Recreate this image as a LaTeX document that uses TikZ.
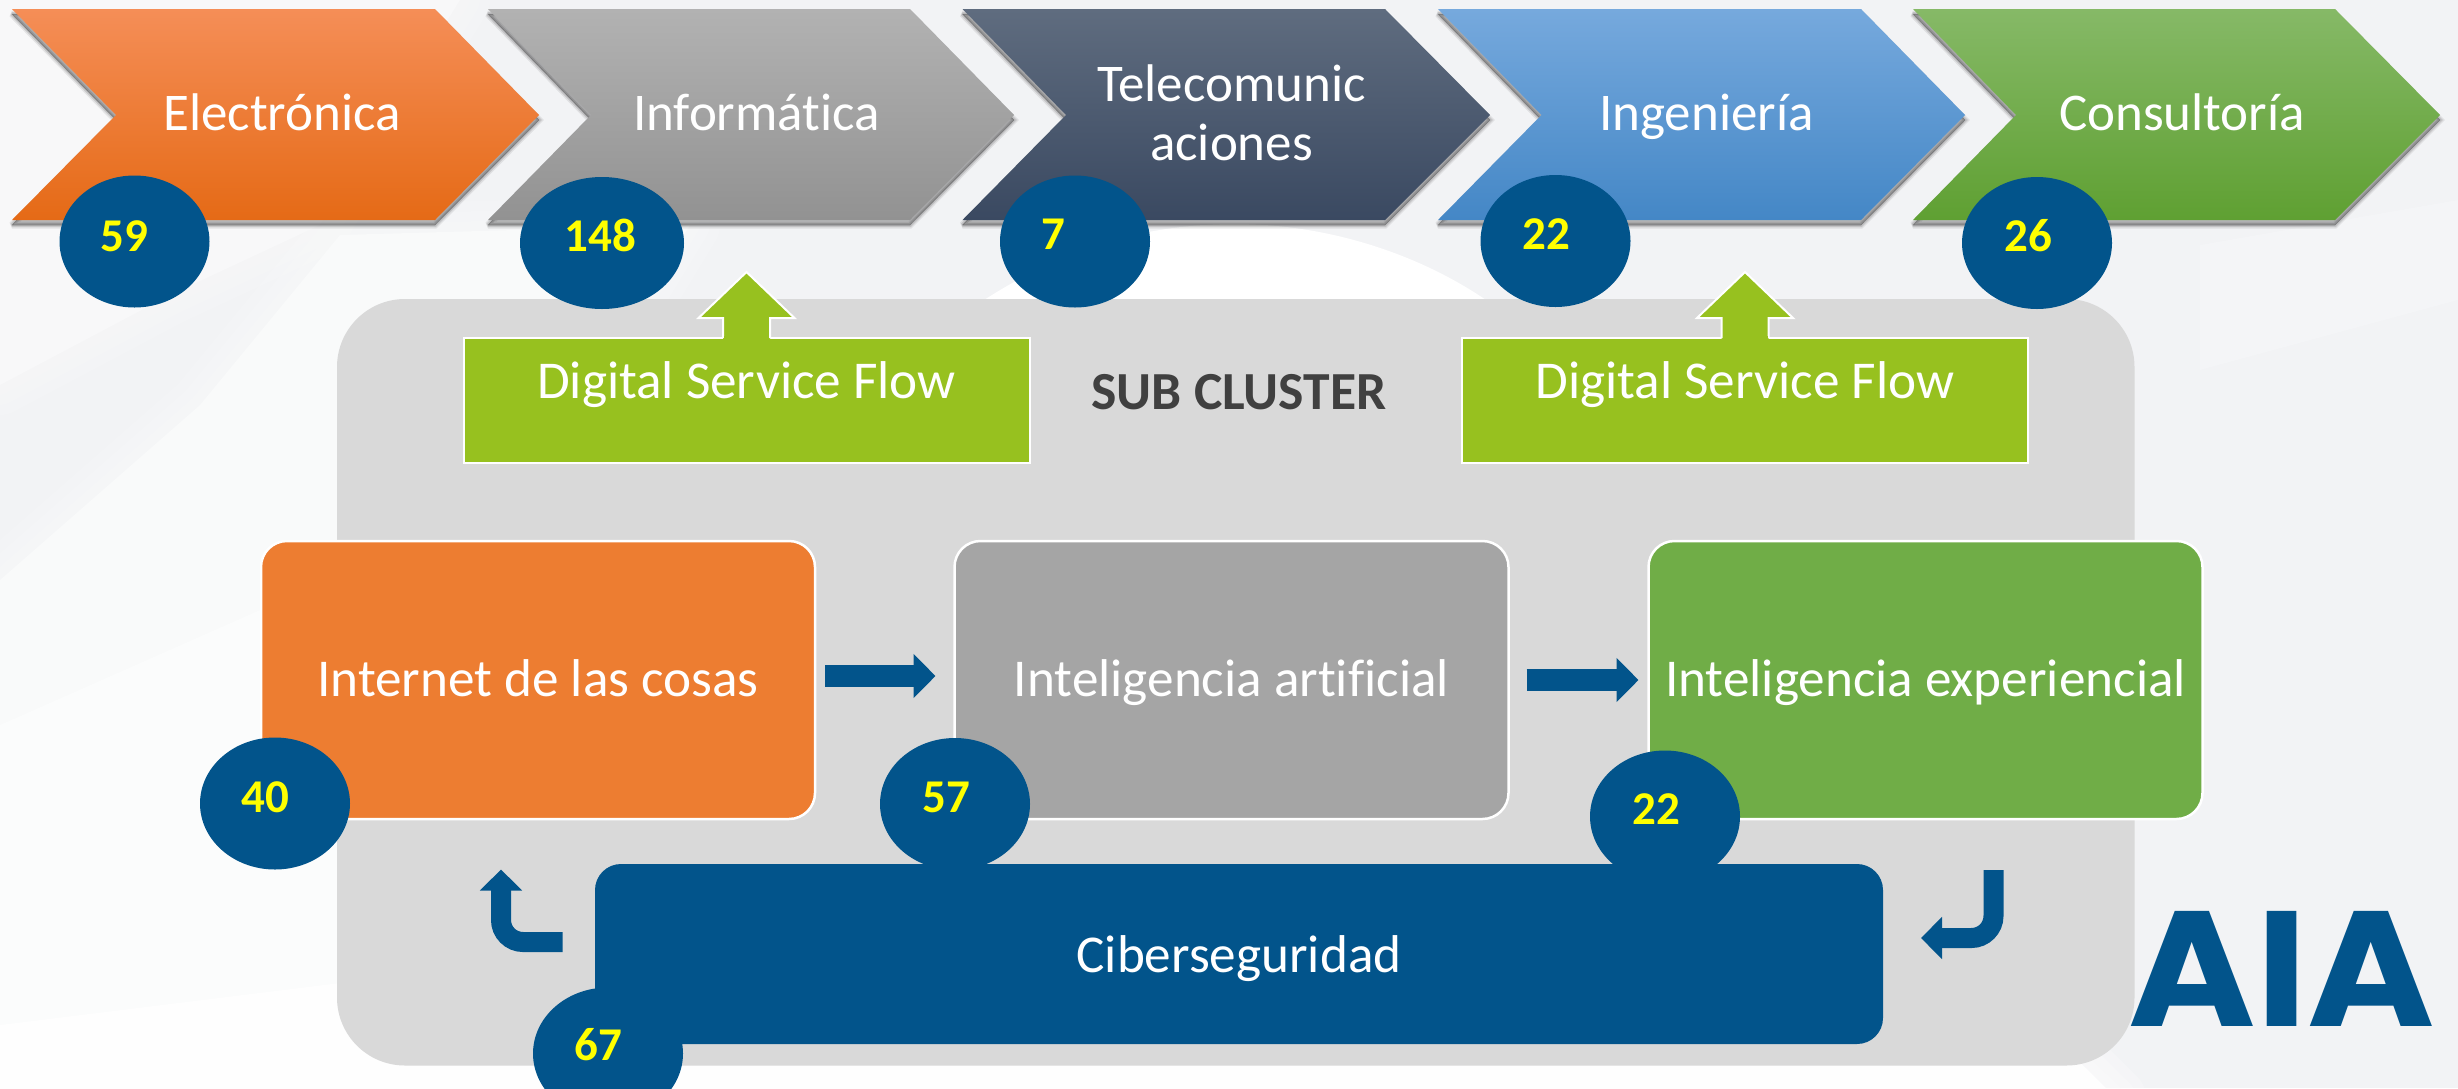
\documentclass[tikz,border=0pt]{standalone}
\usepackage{graphicx}
\usepackage{fontspec}
\setmainfont{Carlito}[Ligatures=CommonOff]
\newfontfamily\logofont{Poppins}
\usetikzlibrary{arrows.meta,shapes.geometric}
\definecolor{bgbase}{HTML}{F2F3F5}
\definecolor{navyblue}{HTML}{02548B}
\definecolor{panelgray}{HTML}{D9D9D9}
\definecolor{dsfgreen}{HTML}{97C11F}
\definecolor{boxorange}{HTML}{ED7D31}
\definecolor{boxgray}{HTML}{A5A5A5}
\definecolor{boxgreen}{HTML}{70AD47}
\definecolor{numyellow}{HTML}{FFFF00}
\definecolor{subgray}{HTML}{404040}
\definecolor{orA}{HTML}{F58E57}\definecolor{orB}{HTML}{F77D2E}\definecolor{orC}{HTML}{E56A16}
\definecolor{grA}{HTML}{B2B2B2}\definecolor{grB}{HTML}{A6A6A6}\definecolor{grC}{HTML}{929292}
\definecolor{naA}{HTML}{5F6C7F}\definecolor{naB}{HTML}{46566C}\definecolor{naC}{HTML}{3A4961}
\definecolor{blA}{HTML}{76A9DD}\definecolor{blB}{HTML}{5C9CD8}\definecolor{blC}{HTML}{4487C6}
\definecolor{geA}{HTML}{86B967}\definecolor{geB}{HTML}{71B045}\definecolor{geC}{HTML}{5FA032}
\tikzset{
  x=1pt,y=-1pt,
  every node/.style={inner sep=0pt,outer sep=0pt},
  chevtext/.style={text=white,font=\fontsize{53}{59}\selectfont,anchor=base,align=center},
  badge/.style={ellipse,fill=navyblue,minimum width=150pt,minimum height=132pt},
  numtext/.style={text=numyellow,font=\fontsize{47}{47}\selectfont\bfseries,anchor=base},
  flowbox/.style={rounded corners=26pt,draw=white,line width=2.5pt,text=white,
     font=\fontsize{53.2}{60}\selectfont,minimum width=554pt,minimum height=278pt,text height=32pt,text depth=0pt},
  dsfbox/.style={fill=dsfgreen,draw=white,line width=2pt,text=white,
     font=\fontsize{53.2}{60}\selectfont,minimum width=566pt,minimum height=125pt,text height=0pt,text depth=5pt},
  blockarrow/.style={draw=navyblue,line width=22pt,-{Triangle[length=22pt,width=43pt,fill=navyblue]}},
  bentarrow/.style={draw=navyblue,line width=20pt,rounded corners=22pt,-{Triangle[length=21pt,width=41pt,fill=navyblue]}},
}
% #1 left, #2 notch, #3 shoulder, #4 tip, #5 top colour, #6 mid colour, #7 bottom colour
\newcommand{\chevshape}[7]{%
  \foreach \wd/\op in {7/.08,4/.12,1/.2}{%
    \draw[black,opacity=\op,line width=\wd pt,line join=miter,miter limit=1.5]
      (#1,14)--(#3,14)--(#4,120)--(#3,225)--(#1,225)--(#2,120)--cycle;}%
  \fill[black,opacity=.25] (#1,14)--(#3,14)--(#4,120)--(#3,225)--(#1,225)--(#2,120)--cycle;
  \shade[top color=#5,middle color=#6,bottom color=#7]
    (#1,9)--(#3,9)--(#4,115)--(#3,220)--(#1,220)--(#2,115)--cycle;}
\newcommand{\dsfarrow}[1]{%
  \begin{scope}[shift={(#1.north)}]
    \fill[dsfgreen] (-23.5,3)--(-23.5,-20)--(-48,-20)--(0,-66)--(48,-20)--(23.5,-20)--(23.5,3)--cycle;
    \draw[white,line width=2pt,line join=miter] (-23.5,0)--(-23.5,-20)--(-48,-20)--(0,-66)--(48,-20)--(23.5,-20)--(23.5,0);
    \fill[dsfgreen] (-22.5,-2)rectangle(22.5,3);
  \end{scope}}
% a background patch with soft edges
\newcommand{\softpatch}[2]{%
  \foreach \wd in {60,40,20}{\draw[#1,opacity=.25,line width=\wd pt,line join=round] #2;}%
  \fill[#1] #2;}
\begin{document}
\begin{tikzpicture}
\useasboundingbox (0,0) rectangle (2458,1088);
\clip (0,0) rectangle (2458,1088);
% background
\fill[bgbase] (0,0) rectangle (2458,1088);
\softpatch{bgbase!55!white}{(0,0)--(460,0)--(320,225)--(170,295)--(0,385)--cycle}
\softpatch{bgbase!45!white}{(0,580)--(200,405)--(340,235)--(690,225)--(340,800)--(340,1088)--(0,1088)--cycle}
\softpatch{bgbase!28!white}{(0,725)--(260,610)--(340,585)--(340,1088)--(0,1088)--cycle}
\softpatch{bgbase!7!white}{(0,1025)--(340,983)--(2000,983)--(2116,1098)--(0,1098)--cycle}
\softpatch{bgbase!82!white}{(2200,245)--(2458,200)--(2458,300)--(2200,370)--cycle}
\fill[white] (984,300) .. controls (1070,245) and (1150,224) .. (1235,224)
   .. controls (1330,224) and (1420,255) .. (1486,300) --cycle;
% chevrons
\chevshape{12}{116}{435}{539}{orA}{orB}{orC}
\chevshape{488}{591}{910}{1014}{grA}{grB}{grC}
\chevshape{962.5}{1066}{1385}{1490}{naA}{naB}{naC}
\chevshape{1438}{1541.5}{1861}{1965}{blA}{blB}{blC}
\chevshape{1913}{2016}{2335}{2440}{geA}{geB}{geC}
\node[chevtext] (electronica) at (282,130) {Electrónica};
\node[chevtext] (informatica) at (756.5,130) {Informática};
\node[chevtext,anchor=base] (telecom1) at (1231.5,101) {Telecomunic};
\node[chevtext,anchor=base] (telecom2) at (1231.5,160) {aciones};
\node[chevtext] (ingenieria) at (1706.5,130) {Ingeniería};
\node[chevtext] (consultoria) at (2182,130) {Consultoría};
% panel
\fill[panelgray,rounded corners=68pt] (337,299) rectangle (2134.5,1065.5);
\node[text=subgray,font=\fontsize{53.6}{60}\selectfont\bfseries,anchor=base] (subcluster) at (1239,409) {SUB CLUSTER};
% top badges
\node[badge] (b59) at (134.5,241.5) {};
\node[badge,minimum width=164pt] (b148) at (602,243) {};
\node[badge] (b7) at (1075,241.5) {};
\node[badge] (b22a) at (1555.5,241) {};
\node[badge] (b26) at (2037,243) {};
\node[numtext] (n59) at (124,251) {59};
\node[numtext] (n148) at (600.5,251) {148};
\node[numtext] (n7) at (1053.5,249) {7};
\node[numtext] (n22a) at (1546,249) {22};
\node[numtext] (n26) at (2028,251) {26};
% digital service flow
\node[dsfbox] (dsf1) at (746.5,400.5) {Digital Service Flow};
\node[dsfbox] (dsf2) at (1745,400.5) {Digital Service Flow};
\dsfarrow{dsf1}
\dsfarrow{dsf2}
% flow boxes
\node[flowbox,fill=boxorange] (iot) at (538,680) {Internet de las cosas};
\node[flowbox,fill=boxgray] (ia) at (1231.5,680) {Inteligencia artificial};
\node[flowbox,fill=boxgreen] (ie) at (1925.5,680) {Inteligencia experiencial};
\node[badge] (b40) at (275,803.5) {};
\node[badge] (b57) at (955,804) {};
\node[badge] (b22b) at (1665,816.5) {};
\node[numtext] (n40) at (265.5,812) {40};
\node[numtext] (n57) at (946,812) {57};
\node[numtext] (n22b) at (1656,824) {22};
\node[fill=navyblue,rounded corners=26pt,text=white,font=\fontsize{53.2}{60}\selectfont,
   minimum width=1288pt,minimum height=180pt,text height=36pt,text depth=0pt] (ciber) at (1239,954) {Ciberseguridad};
\node[badge] (b67) at (608,1053.5) {};
\node[numtext] (n67) at (598.5,1060.5) {67};
% connectors
\draw[blockarrow] ([xshift=10pt,yshift=4pt]iot.east) -- ([xshift=-19pt,yshift=4pt]ia.west);
\draw[blockarrow] ([xshift=18pt]ia.east) -- ([xshift=-10pt]ie.west);
\draw[bentarrow] ([xshift=-32.5pt,yshift=12pt]ciber.west) -| ([xshift=-37pt,yshift=-50.5pt]iot.south);
\draw[bentarrow] ([xshift=68pt,yshift=-51pt]ie.south) |- ([xshift=38pt,yshift=16pt]ciber.east);
% logo
\node[text=navyblue,font=\logofont\fontsize{164}{164}\selectfont\bfseries,anchor=base] (logo) at (2281.5,1026) {\scalebox{1.055}[1]{AIA}};
\end{tikzpicture}
\end{document}
